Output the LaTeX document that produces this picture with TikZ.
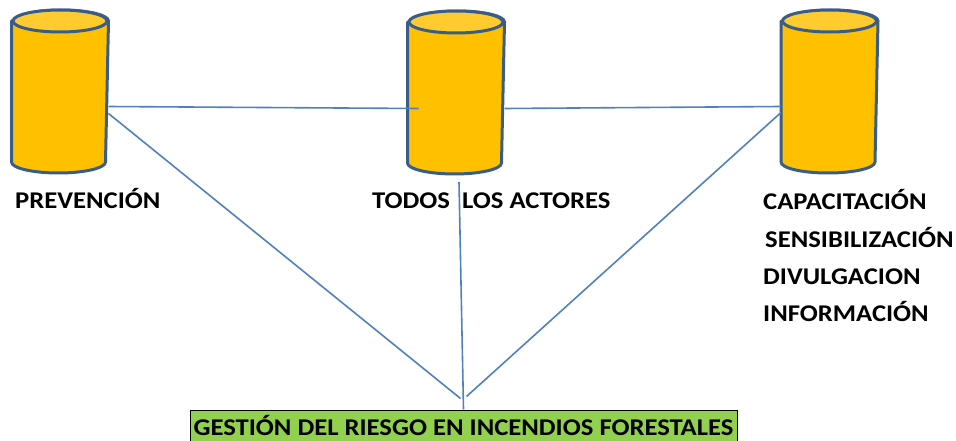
\documentclass[tikz,border=0pt]{standalone}
\usepackage{fontspec}
\usepackage{graphicx}
\setmainfont{Carlito}
\usetikzlibrary{positioning}
\definecolor{lineBlue}{HTML}{4F81BD}
\definecolor{cylEdge}{HTML}{385D8A}
\definecolor{cylBody}{HTML}{FFC000}
\definecolor{cylTop}{HTML}{FFCB2E}
\definecolor{gestGreen}{HTML}{92D050}
\newcommand{\wideText}[1]{\scalebox{1.11}[1]{#1}}

\begin{document}
\begin{tikzpicture}
[x=1pt,y=-1pt,%
  lineDecorate/.style={-,line width=1.6pt,color=lineBlue},%
  nodeDecorate/.style={shape=rectangle,minimum width=94pt,minimum height=160pt,inner sep=0pt,outer sep=1.5pt},%
  cylDecorate/.style={draw=cylEdge,line width=3pt,line join=round},%
  labelDecorate/.style={font=\fontsize{24}{28}\selectfont\bfseries,inner sep=0pt,anchor=base west}]
\useasboundingbox (0,0) rectangle (956,441);
%% cylinders
\node[nodeDecorate] (prev) at (60,91.5) {};
\node[nodeDecorate] (todos) at (456,92.5) {};
\node[nodeDecorate] (capa) at (829.5,91.5) {};
\foreach \nodename in {prev,todos,capa}
{
  \path[cylDecorate,fill=cylBody]
    ([yshift=-11pt]\nodename.north west) -- ([yshift=11pt]\nodename.south west)
    arc[start angle=180,end angle=360,x radius=47pt,y radius=11pt]
    -- ([yshift=-11pt]\nodename.north east)
    arc[start angle=0,end angle=180,x radius=47pt,y radius=11pt] -- cycle;
  \path[cylDecorate,fill=cylTop] ([yshift=-11pt]\nodename.north) ellipse[x radius=47pt,y radius=11pt];
}
%% cylinder labels
\foreach \nodename/\x/\y/\text in {
  lprev/15/208/PREVENCIÓN, ltodos/372/208/TODOS~~LOS ACTORES,
  lcapa/763/209/CAPACITACIÓN, lsens/765/247/SENSIBILIZACIÓN,
  ldivu/763/284/DIVULGACION, linfo/763/321/INFORMACIÓN}
{
  \node[labelDecorate] (\nodename) at (\x,\y) {\wideText{\text}};
}
%% bottom box
\node[draw=black,fill=gestGreen,line width=1pt,minimum width=547pt,minimum height=31pt,inner sep=0pt,font=\fontsize{24}{28}\selectfont\bfseries] (gest) at (463.5,425.5) {\wideText{GESTIÓN DEL RIESGO EN INCENDIOS FORESTALES}};
%% connect cylinders and box
\path
([yshift=-15pt]prev.east) edge[lineDecorate] ([xshift=11pt,yshift=-16pt]todos.west)
([yshift=-16pt]todos.east) edge[lineDecorate] ([yshift=-15pt]capa.west)
([yshift=-22pt]prev.east) edge[lineDecorate] ([xshift=-3pt,yshift=11pt]gest.north)
([yshift=-21pt]capa.west) edge[lineDecorate] ([xshift=3pt,yshift=13pt]gest.north)
([xshift=3pt,yshift=-8pt]todos.south) edge[lineDecorate] (gest.north);
\end{tikzpicture}
\end{document}
